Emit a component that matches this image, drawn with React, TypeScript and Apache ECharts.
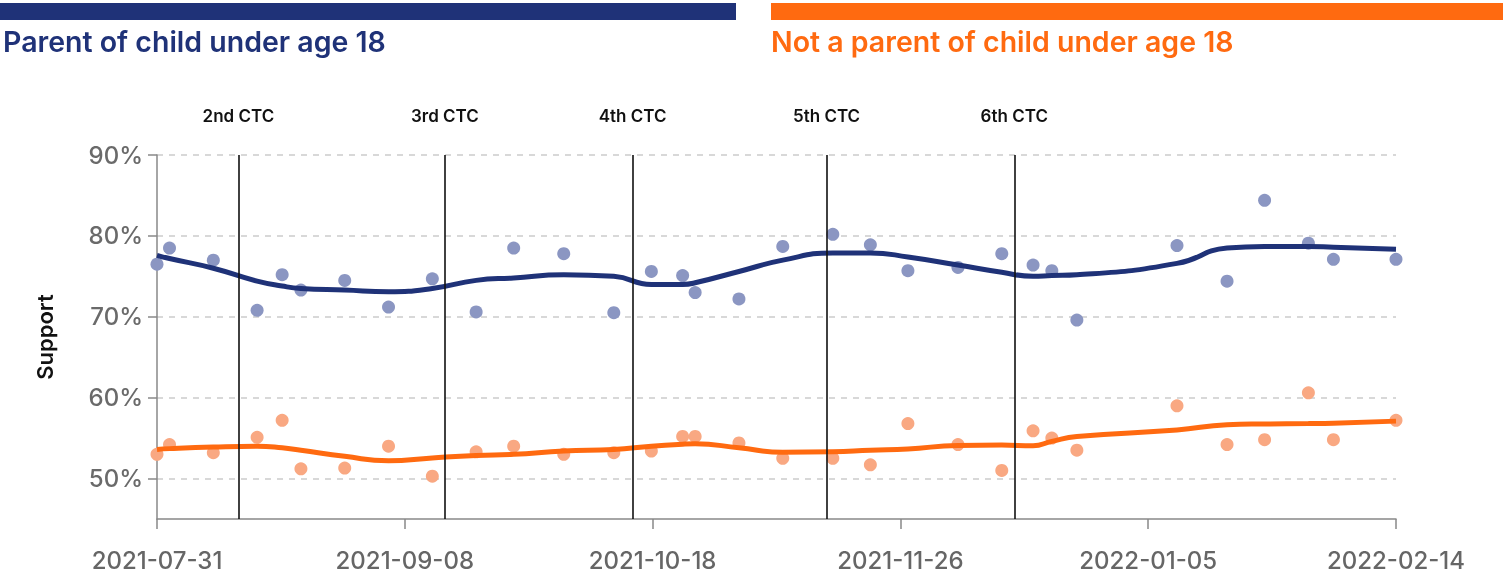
import React, { useEffect, useRef } from "react";
import * as echarts from "echarts";

const startDate = "2021-07-31";
const endDate = "2022-02-14";
const xTickCount = 5;

const surveyDates = [
  "2021-07-31", "2021-08-02", "2021-08-09", "2021-08-16", "2021-08-20", "2021-08-23",
  "2021-08-30", "2021-09-06", "2021-09-13", "2021-09-20", "2021-09-26", "2021-10-04",
  "2021-10-12", "2021-10-18", "2021-10-23", "2021-10-25", "2021-11-01", "2021-11-08",
  "2021-11-16", "2021-11-22", "2021-11-28", "2021-12-06", "2021-12-13", "2021-12-18",
  "2021-12-21", "2021-12-25", "2022-01-10", "2022-01-18", "2022-01-24", "2022-01-31",
  "2022-02-04", "2022-02-14",
];

const parentSupport = [
  76.5, 78.5, 77.0, 70.8, 75.2, 73.3, 74.5, 71.2, 74.7, 70.6, 78.5, 77.8,
  70.5, 75.6, 75.1, 73.0, 72.2, 78.7, 80.2, 78.9, 75.7, 76.1, 77.8, 76.4,
  75.7, 69.6, 78.8, 74.4, 84.4, 79.1, 77.1, 77.1,
];

const parentTrend = [
  77.6, 77.2, 76.0, 74.4, 73.8, 73.5, 73.3, 73.1, 73.5, 74.5, 74.8, 75.2,
  75.0, 74.0, 74.0, 74.2, 75.6, 77.0, 77.9, 77.9, 77.4, 76.4, 75.5, 75.0,
  75.1, 75.2, 76.6, 78.5, 78.7, 78.7, 78.6, 78.35,
];

const nonParentSupport = [
  53.0, 54.2, 53.2, 55.1, 57.2, 51.2, 51.3, 54.0, 50.3, 53.3, 54.0, 53.0,
  53.2, 53.4, 55.2, 55.2, 54.4, 52.5, 52.5, 51.7, 56.8, 54.2, 51.0, 55.9,
  55.0, 53.5, 59.0, 54.2, 54.8, 60.6, 54.8, 57.2,
];

const nonParentTrend = [
  53.6, 53.7, 53.9, 54.0, 53.8, 53.5, 52.75, 52.2, 52.55, 52.85, 53.0, 53.4,
  53.6, 54.0, 54.25, 54.3, 53.8, 53.25, 53.3, 53.5, 53.65, 54.1, 54.15, 54.05,
  54.6, 55.2, 56.0, 56.65, 56.75, 56.8, 56.85, 57.1,
];

const ctcDates = ["2021-08-13", "2021-09-15", "2021-10-15", "2021-11-15", "2021-12-15"];
const ctcLabels = ["2nd CTC", "3rd CTC", "4th CTC", "5th CTC", "6th CTC"];

const yTicks = [50, 60, 70, 80, 90];
const yMin = 45;
const yMax = 90;

const titleLeft = "Parent of child under age 18";
const titleRight = "Not a parent of child under age 18";

const BLUE = "#1f3278";
const ORANGE = "#ff6a10";
const BLUE_DOT = "#8b96c2";
const ORANGE_DOT = "#f9a882";
const FONT = "Inter, 'Open Sans', sans-serif";

const DAY = 86400000;
const toDay = (s: string) => Math.round((Date.parse(s + "T00:00:00Z") - Date.parse(startDate + "T00:00:00Z")) / DAY);
const fromDay = (d: number) => {
  const t = Date.parse(startDate + "T00:00:00Z") + Math.floor(d + 1e-6) * DAY;
  return new Date(t).toISOString().slice(0, 10);
};

export default function App() {
  const ref = useRef<HTMLDivElement>(null);
  useEffect(() => {
    if (!ref.current) return;
    const chart = echarts.init(ref.current, null, { renderer: "svg" });
    const totalDays = toDay(endDate);
    const xs = surveyDates.map(toDay);
    const pair = (vals: number[]) => xs.map((x, i) => [x, vals[i]]);

    chart.setOption({
      animation: false,
      textStyle: { fontFamily: FONT },
      graphic: [
        { type: "rect", left: 0, top: 3, shape: { width: 736, height: 17 }, style: { fill: BLUE } },
        { type: "rect", left: 771, top: 3, shape: { width: 732, height: 17 }, style: { fill: ORANGE } },
        {
          type: "text", left: 3, top: 27,
          style: { text: titleLeft, fill: BLUE, font: `600 28.5px ${FONT}` },
        },
        {
          type: "text", left: 771, top: 27,
          style: { text: titleRight, fill: ORANGE, font: `600 28.5px ${FONT}` },
        },
      ],
      grid: { left: 157, right: 107, top: 155, bottom: 56, containLabel: false },
      xAxis: {
        type: "value",
        min: 0,
        max: totalDays,
        interval: totalDays / xTickCount,
        splitLine: { show: false },
        axisLine: { show: true, lineStyle: { color: "#888", width: 1.5 } },
        axisTick: { show: true, length: 10, lineStyle: { color: "#888", width: 1.5 } },
        axisLabel: {
          formatter: (v: number) => fromDay(v),
          color: "#666",
          fontSize: 24,
          fontFamily: FONT,
          fontWeight: 500,
          margin: 29,
        },
      },
      yAxis: {
        type: "value",
        min: yMin,
        max: yMax,
        name: "Support",
        nameLocation: "middle",
        nameGap: 101,
        nameTextStyle: { color: "#111", fontSize: 22, fontWeight: 600, fontFamily: FONT },
        axisLine: { show: true, lineStyle: { color: "#888", width: 1.5 } },
        axisTick: { show: true, length: 9, customValues: yTicks, lineStyle: { color: "#888", width: 1.5 } },
        axisLabel: {
          customValues: yTicks,
          formatter: (v: number) => `${v}%`,
          color: "#6a6a6a",
          fontSize: 24,
          fontFamily: FONT,
          fontWeight: 500,
          margin: 14,
        },
        splitLine: { show: true, lineStyle: { color: "#ccc", width: 1.5, type: [6, 6] } },
      },
      series: [
        {
          type: "scatter",
          data: pair(parentSupport),
          symbolSize: 13,
          itemStyle: { color: BLUE_DOT, opacity: 1 },
          z: 2,
          markLine: {
            silent: true,
            symbol: "none",
            lineStyle: { color: "#111", width: 1.6, type: "solid" },
            label: {
              show: true,
              position: "end",
              formatter: (p: any) => p.name,
              color: "#111",
              fontSize: 17,
              fontWeight: 600,
              fontFamily: FONT,
              distance: 31,
            },
            data: ctcDates.map((d, i) => ({ xAxis: toDay(d), name: ctcLabels[i] })),
          },
        },
        {
          type: "scatter",
          data: pair(nonParentSupport),
          symbolSize: 13,
          itemStyle: { color: ORANGE_DOT, opacity: 1 },
          z: 2,
        },
        {
          type: "line",
          data: pair(parentTrend),
          smooth: 0.5,
          showSymbol: false,
          lineStyle: { color: BLUE, width: 5 },
          z: 3,
        },
        {
          type: "line",
          data: pair(nonParentTrend),
          smooth: 0.5,
          showSymbol: false,
          lineStyle: { color: ORANGE, width: 5 },
          z: 3,
        },
      ],
    });
    return () => chart.dispose();
  }, []);
  return <div ref={ref} style={{ position: "fixed", left: 0, top: 0, width: 1503, height: 575 }} />;
}
